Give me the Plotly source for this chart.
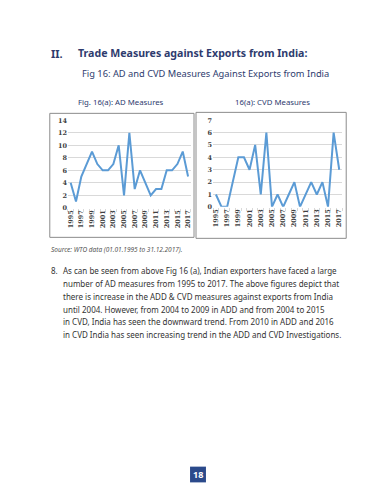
import plotly.graph_objects as go

years = [1995, 1996, 1997, 1998, 1999, 2000, 2001, 2002, 2003, 2004, 2005, 2006,
         2007, 2008, 2009, 2010, 2011, 2012, 2013, 2014, 2015, 2016, 2017]
ad_measures = [4, 1, 5, 7, 9, 7, 6, 6, 7, 10, 2, 12, 3, 6, 4, 2, 3, 3, 6, 6, 7, 9, 5]
cvd_measures = [1, 0, 0, 2, 4, 4, 3, 5, 1, 6, 0, 1, 0, 1, 2, 0, 1, 2, 1, 2, 0, 6, 3]
year_ticks = [1995, 1997, 1999, 2001, 2003, 2005, 2007, 2009, 2011, 2013, 2015, 2017]
ad_yticks = [0, 2, 4, 6, 8, 10, 12, 14]
cvd_yticks = [0, 1, 2, 3, 4, 5, 6, 7]

paragraph = [
    "As can be seen from above Fig 16 (a), Indian exporters have faced a large",
    "number of AD measures from 1995 to 2017. The above figures depict that",
    "there is increase in the ADD & CVD measures against exports from India",
    "until 2004. However, from 2004 to 2009 in ADD and from 2004 to 2015",
    "in CVD, India has seen the downward trend. From 2010 in ADD and 2016",
    "in CVD India has seen increasing trend in the ADD and CVD Investigations.",
]

W, H = 380, 502
def X(px):
    return px / W
def Y(py):
    return 1 - py / H

LINE = "#5b9bd5"
GRID = "#d9d9d9"
TICKFONT = dict(family="DejaVu Serif", size=6.5, color="#404040", weight="bold")
BODY = "Noto Sans"

fig = go.Figure()
fig.add_trace(go.Scatter(x=years, y=ad_measures, mode="lines",
                         line=dict(color=LINE, width=2), xaxis="x", yaxis="y",
                         showlegend=False, hoverinfo="skip"))
fig.add_trace(go.Scatter(x=years, y=cvd_measures, mode="lines",
                         line=dict(color=LINE, width=2), xaxis="x2", yaxis="y2",
                         showlegend=False, hoverinfo="skip"))

def xaxis(dom):
    return dict(domain=dom, range=[1994.5, 2017.5], tickmode="array",
                tickvals=year_ticks, ticktext=[str(v) for v in year_ticks],
                tickangle=-90, tickfont=TICKFONT, showgrid=False, zeroline=False,
                showline=False, ticks="", fixedrange=True,
                minor=dict(ticks="outside", dtick=1, tick0=1994.5, ticklen=3,
                           tickcolor=GRID, tickwidth=1))

def yaxis(dom, rng, ticks, anchor):
    return dict(domain=dom, range=rng, tickmode="array", tickvals=ticks,
                tickfont=TICKFONT, showgrid=True, gridcolor=GRID, gridwidth=0.8,
                zeroline=False, showline=False, ticks="", anchor=anchor,
                fixedrange=True)

layout = dict(
    width=W, height=H, margin=dict(l=0, r=0, t=0, b=0),
    paper_bgcolor="white", plot_bgcolor="white",
    xaxis=xaxis([X(59.3), X(182.7)]),
    yaxis=yaxis([Y(199), Y(110)], [0, 14], ad_yticks, "x"),
    xaxis2=dict(xaxis([X(205.2), X(334.8)]), anchor="y2"),
    yaxis2=yaxis([Y(198), Y(110)], [0, 7], cvd_yticks, "x2"),
)
layout["xaxis"]["anchor"] = "y"
fig.update_layout(**layout)

shapes = [
    dict(type="rect", xref="paper", yref="paper", x0=X(41), x1=X(186), y0=Y(229), y1=Y(103),
         line=dict(color="#8c8c8c", width=1)),
    dict(type="rect", xref="paper", yref="paper", x0=X(188), x1=X(339), y0=Y(230), y1=Y(102),
         line=dict(color="#8c8c8c", width=1)),
    dict(type="rect", xref="paper", yref="paper", x0=X(182), x1=X(198), y0=Y(478), y1=Y(462),
         fillcolor="#2b4a8b", line=dict(width=0)),
]
fig.update_layout(shapes=shapes)

NAVY = "#2e3b6e"
ann = []
def text(px, py, s, size, color, weight="normal", style="normal", family=BODY, xanchor="left"):
    ann.append(dict(x=X(px), y=Y(py), xref="paper", yref="paper", text=s, showarrow=False,
                    xanchor=xanchor, yanchor="middle",
                    font=dict(family=family, size=size, color=color, weight=weight, style=style)))

text(40, 42, "II.", 11, NAVY, weight="bold")
text(67, 42, "Trade Measures against Exports from India:", 10.6, NAVY, weight="bold")
text(71, 62, "Fig 16: AD and CVD Measures Against Exports from India", 9.3, NAVY)
text(67, 91, "Fig. 16(a): AD Measures", 7.8, NAVY)
text(225, 91, "16(a): CVD Measures", 7.8, NAVY)
text(40, 241, "Source: WTO data (01.01.1995 to 31.12.2017).", 6.5, "#555555", style="italic")
text(40, 263, "8.", 8.0, "#333333")
for i, line in enumerate(paragraph):
    text(52, 263 + 13 * i, line, 8.0, "#333333")
text(190, 470, "18", 9, "white", weight="bold", xanchor="center")
fig.update_layout(annotations=ann)

fig.write_html("out.html")
